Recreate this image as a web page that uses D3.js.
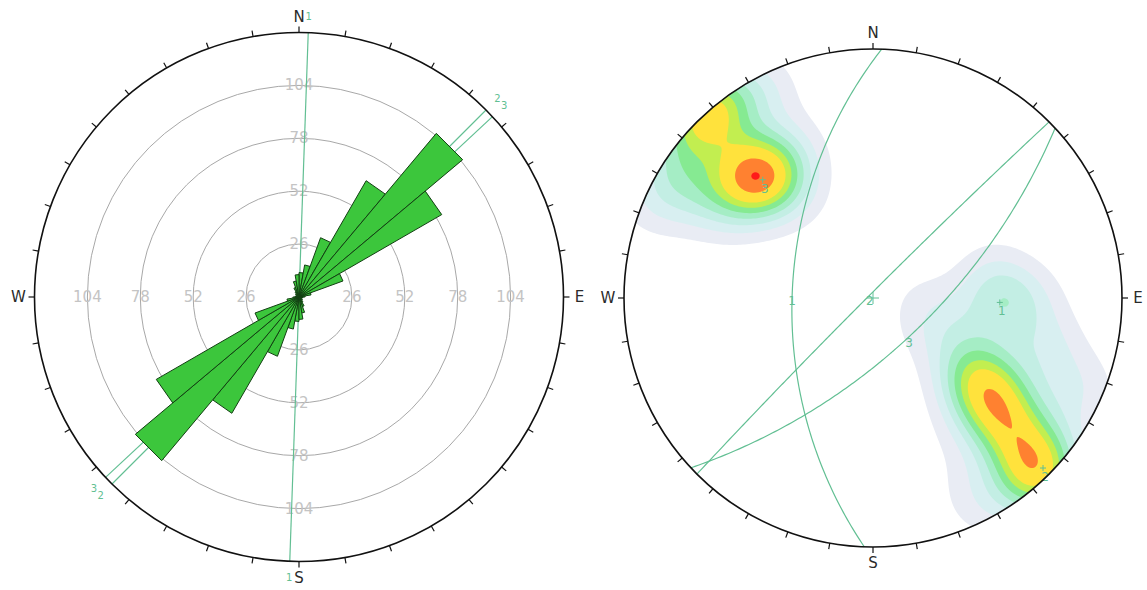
<!DOCTYPE html>
<html>
<head>
<meta charset="utf-8">
<script src="https://cdn.jsdelivr.net/npm/d3@7"></script>
<style>
  body { margin: 0; background: #fff; }
  svg { display: block; font-family: "DejaVu Sans", Verdana, sans-serif; }
</style>
</head>
<body>
<svg id="chart" width="1147" height="590"></svg>
<script>
// rose: number of joints per 10 deg strike bin (0-180, mirrored for 180-360)
const binStarts = [0, 10, 20, 30, 40, 50, 60, 70, 80, 90, 100, 110, 120, 130, 140, 150, 160, 170];
const binCounts = [12, 16, 31, 66, 105, 81, 23, 6, 3, 2, 1, 1, 2, 2, 3, 5, 8, 11];
const ringTicks = [26, 52, 78, 104];

// mean joint sets
const setNames = ['1', '2', '3'];
const setDipDirs = [272, 315, 137];
const setDips = [54, 88, 66];

// poles [trend, plunge, weight]
const poles = [
  // NW cluster
  [315.5, 22, 1.1], [316, 16, 0.35], [320, 25.6, 0.4], [330.7, 21.5, 0.3], [323, 35, 0.2],
  [316.6, 0.3, 1.1], [322.7, 0, 0.5], [305, 2, 0.5], [301, 12, 0.35], [331.5, 3, 0.35],
  [294, 2.3, 0.3], [303, 21, 0.3],
  // SE cluster, main ridge
  [125.3, 38.1, 0.34], [127.3, 34.1, 0.34], [128.8, 30, 0.34], [130, 26.1, 0.34], [131.3, 22.5, 0.34],
  [132.5, 19, 0.34], [133.3, 15.8, 0.3], [134.2, 12.2, 0.08], [134.8, 9, 0.36],
  [135.4, 5.8, 0.3], [136, 3, 0.3], [136.5, 0.5, 0.5], [137.5, 0, 0.25],
  // SE cluster, scatter
  [91, 36, 0.5], [111.3, 51, 0.22], [76.5, 38.4, 0.18], [90.7, 25.5, 0.25],
  [105.3, 18.8, 0.35], [112.6, 8.8, 0.2], [114.1, 2.7, 0.15], [125.2, 4.8, 0.15],
  [119.3, 60.6, 0.15], [131, 41, 0.06], [150, 26, 0.08], [152, 12.5, 0.1],
  [153.8, 4.3, 0.15], [146.8, 1.8, 0.2], [92.4, 68.6, 0.15]
];
// contour intervals as a fraction of the peak density
const densityLevels = [0.1, 0.2, 0.3, 0.4, 0.5, 0.6, 0.7, 0.87, 0.993];
const densityColors = ['#e9ecf4', '#d8eff1', '#c3eee4', '#a5edc5', '#86ea92',
                       '#c2ee50', '#ffe23c', '#ff8130', '#ff1a1a'];

const W = 1147, H = 590;
const lineColor = '#62bf93';
const svg = d3.select('#chart');

function polar(c, az, r) {
  const a = az * Math.PI / 180;
  return [c[0] + r * Math.sin(a), c[1] - r * Math.cos(a)];
}

function drawFrame(g, c, R) {
  g.append('circle').attr('cx', c[0]).attr('cy', c[1]).attr('r', R)
    .attr('fill', 'none').attr('stroke', '#111').attr('stroke-width', 1.6);
  g.selectAll('line.tick').data(d3.range(0, 360, 10)).join('line')
    .attr('class', 'tick')
    .attr('x1', d => polar(c, d, R)[0]).attr('y1', d => polar(c, d, R)[1])
    .attr('x2', d => polar(c, d, R + 6)[0]).attr('y2', d => polar(c, d, R + 6)[1])
    .attr('stroke', '#111').attr('stroke-width', 1.2);
  g.selectAll('text.card').data([['N', 0], ['E', 90], ['S', 180], ['W', 270]]).join('text')
    .attr('class', 'card')
    .attr('x', d => polar(c, d[1], R + 16)[0]).attr('y', d => polar(c, d[1], R + 16)[1])
    .attr('text-anchor', 'middle').attr('dominant-baseline', 'central')
    .attr('font-size', 15).attr('fill', '#2a2a2a').text(d => d[0]);
}

// ---------- rose diagram ----------
const rc = [299, 297], rR = 264.5;
const r = d3.scaleLinear().domain([0, 130]).range([0, rR]);
const rose = svg.append('g');

rose.selectAll('circle.ring').data(ringTicks).join('circle')
  .attr('class', 'ring').attr('cx', rc[0]).attr('cy', rc[1]).attr('r', d => r(d))
  .attr('fill', 'none').attr('stroke', '#a8a8a8').attr('stroke-width', 1);

const ringLabels = [];
ringTicks.forEach(v => [0, 90, 180, 270].forEach(az => ringLabels.push({ v, az })));
rose.selectAll('text.ring').data(ringLabels).join('text')
  .attr('class', 'ring')
  .attr('x', d => polar(rc, d.az, r(d.v))[0]).attr('y', d => polar(rc, d.az, r(d.v))[1])
  .attr('text-anchor', 'middle').attr('dominant-baseline', 'central')
  .attr('font-size', 15).attr('fill', '#c4c4c4').text(d => d.v);

// strike lines of the mean sets
const strikes = setDipDirs.map(d => (d + 90) % 180);
setNames.forEach((name, i) => {
  const s = strikes[i];
  const p0 = polar(rc, s, rR), p1 = polar(rc, s + 180, rR);
  rose.append('line').attr('x1', p0[0]).attr('y1', p0[1]).attr('x2', p1[0]).attr('y2', p1[1])
    .attr('stroke', lineColor).attr('stroke-width', 1.2);
  [s, s + 180].forEach(az => {
    const p = polar(rc, az, rR + 16);
    rose.append('text').attr('x', p[0]).attr('y', p[1])
      .attr('text-anchor', 'middle').attr('dominant-baseline', 'central')
      .attr('font-size', 10).attr('fill', lineColor).text(name);
  });
});

const petals = [];
binStarts.forEach((b, i) => {
  petals.push({ a: b, n: binCounts[i] });
  petals.push({ a: b + 180, n: binCounts[i] });
});
rose.selectAll('path.petal').data(petals).join('path')
  .attr('class', 'petal')
  .attr('d', d => 'M' + rc + 'L' + polar(rc, d.a, r(d.n)) + 'L' + polar(rc, d.a + 10, r(d.n)) + 'Z')
  .attr('fill', '#3cc63c').attr('stroke', '#123f12').attr('stroke-width', 1)
  .attr('stroke-linejoin', 'round');

drawFrame(rose, rc, rR);

// ---------- stereonet (equal angle, lower hemisphere) ----------
const sc = [873, 298], sR = 249;
const rad = Math.PI / 180;
function proj(trend, plunge) {
  const d = sR * Math.tan((90 - plunge) * rad / 2);
  return polar(sc, trend, d);
}
function greatCircle(dipDir, dip) {
  const s = (dipDir - 90) * rad, dd = dipDir * rad, dp = dip * rad;
  return d3.range(0, 180.5, 1).map(t => {
    const ct = Math.cos(t * rad), st = Math.sin(t * rad);
    const n = ct * Math.cos(s) + st * Math.cos(dp) * Math.cos(dd);
    const e = ct * Math.sin(s) + st * Math.cos(dp) * Math.sin(dd);
    const dn = st * Math.sin(dp);
    const plunge = Math.asin(Math.min(1, dn)) / rad;
    const trend = Math.atan2(e, n) / rad;
    return proj(trend, plunge);
  });
}

const net = svg.append('g');
net.append('clipPath').attr('id', 'prim')
  .append('circle').attr('cx', sc[0]).attr('cy', sc[1]).attr('r', sR);

// gaussian pole density on a 2px grid over the net, then d3.contours
const pts = poles.map(p => { const q = proj(p[0], p[1]); return [q[0], q[1], p[2]]; });
const cell = 2, sigma = 28;
const gx0 = sc[0] - sR - 2, gy0 = sc[1] - sR - 2;
const nx = Math.ceil((2 * sR + 4) / cell), ny = nx;
const values = new Float64Array(nx * ny);
for (let j = 0; j < ny; j++) {
  for (let i = 0; i < nx; i++) {
    const px = gx0 + (i + 0.5) * cell, py = gy0 + (j + 0.5) * cell;
    let s = 0;
    for (const p of pts) {
      const dx = px - p[0], dy = py - p[1];
      s += p[2] * Math.exp(-(dx * dx + dy * dy) / (2 * sigma * sigma));
    }
    values[j * nx + i] = s;
  }
}
const peak = d3.max(values);
const bands = d3.contours().size([nx, ny])
  .thresholds(densityLevels.map(f => f * peak))(values);
const toNet = d3.geoTransform({
  point(x, y) { this.stream.point(gx0 + x * cell, gy0 + y * cell); }
});
net.append('g').attr('clip-path', 'url(#prim)')
  .selectAll('path').data(bands).join('path')
  .attr('d', d3.geoPath(toNet))
  .attr('fill', (d, i) => densityColors[i]).attr('stroke', 'none');

const line = d3.line().curve(d3.curveCatmullRom);
setNames.forEach((name, i) => {
  const pts = greatCircle(setDipDirs[i], setDips[i]);
  net.append('path').attr('d', line(pts))
    .attr('fill', 'none').attr('stroke', lineColor).attr('stroke-width', 1.2);
  const mid = pts[90];
  net.append('text').attr('x', mid[0]).attr('y', mid[1] + 10)
    .attr('text-anchor', 'middle').attr('font-size', 12).attr('fill', lineColor).text(name);
  // pole of the set
  const p = proj((setDipDirs[i] + 180) % 360, 90 - setDips[i]);
  net.append('path').attr('d', `M${p[0] - 3},${p[1]}h6M${p[0]},${p[1] - 3}v6`)
    .attr('stroke', lineColor).attr('stroke-width', 1);
  net.append('text').attr('x', p[0] + 2).attr('y', p[1] + 13)
    .attr('text-anchor', 'middle').attr('font-size', 12).attr('fill', lineColor).text(name);
});

// centre mark
net.append('path').attr('d', `M${sc[0] - 6},${sc[1]}h12M${sc[0]},${sc[1] - 6}v12`)
  .attr('stroke', lineColor).attr('stroke-width', 1);

drawFrame(net, sc, sR);
</script>
</body>
</html>
